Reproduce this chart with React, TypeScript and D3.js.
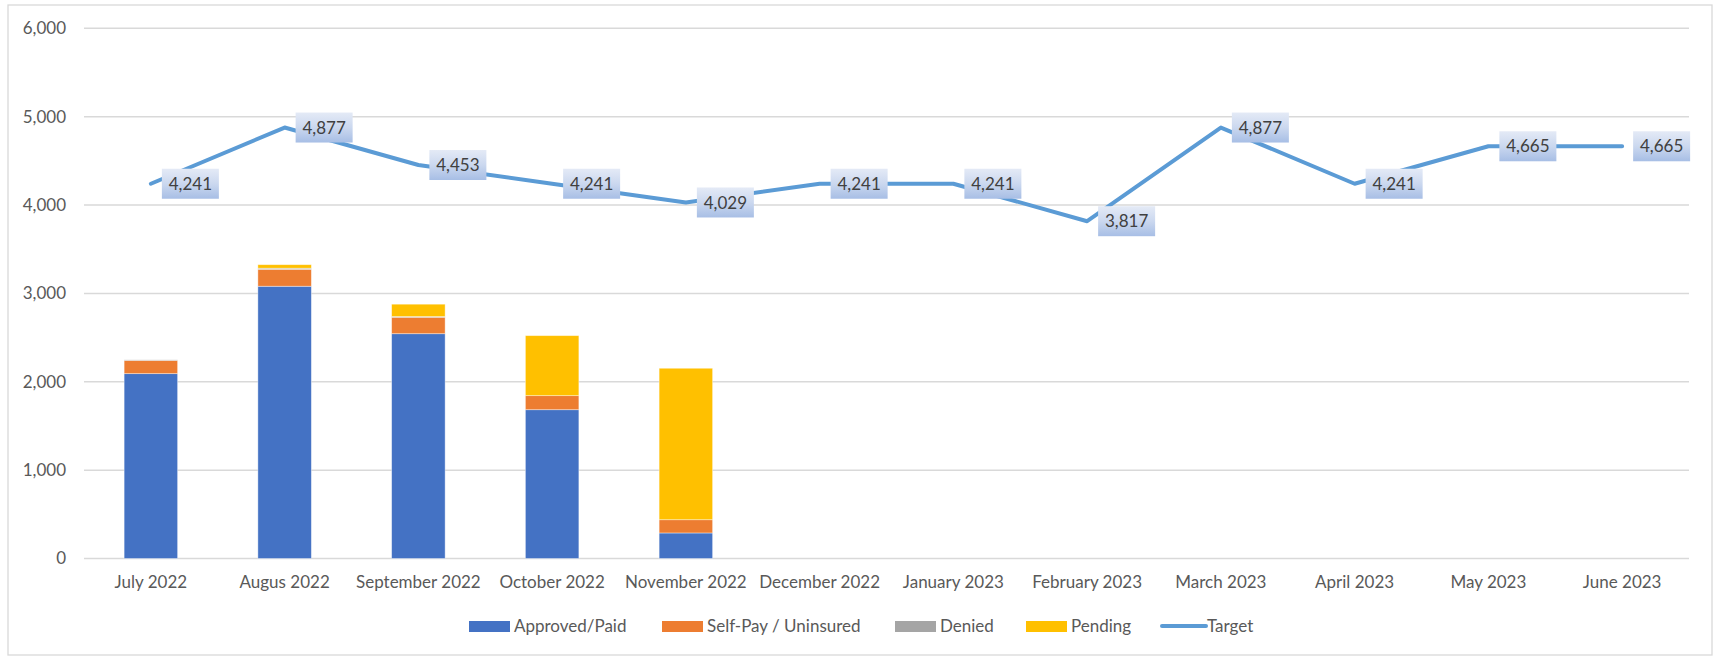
import React, { useEffect } from 'react';
import * as d3 from 'd3';

const months = ['July 2022', 'Augus 2022', 'September 2022', 'October 2022', 'November 2022', 'December 2022', 'January 2023', 'February 2023', 'March 2023', 'April 2023', 'May 2023', 'June 2023'];
const approved = [2092, 3081, 2544, 1684, 289, 0, 0, 0, 0, 0, 0, 0];
const selfPay = [150, 192, 186, 159, 150, 0, 0, 0, 0, 0, 0, 0];
const denied = [6, 12, 8, 0, 0, 0, 0, 0, 0, 0, 0, 0];
const pending = [0, 40, 140, 679, 1714, 0, 0, 0, 0, 0, 0, 0];
const target = [4241, 4877, 4453, 4241, 4029, 4241, 4241, 3817, 4877, 4241, 4665, 4665];
const yTicks = [0, 1000, 2000, 3000, 4000, 5000, 6000];
const seriesNames = ['Approved/Paid', 'Self-Pay / Uninsured', 'Denied', 'Pending'];
const seriesColors = ['#4472c4', '#ed7d31', '#a5a5a5', '#ffc000'];
const lineName = 'Target';
const lineColor = '#5b9bd5';

const W = 1715;
const H = 657;
const FONT = 'Lato, "Open Sans", sans-serif';

export default function App() {
  useEffect(() => {
    document.body.style.margin = '0';
  }, []);

  const x = d3.scaleBand<string>().domain(months).range([84, 1689]).paddingInner(0.6).paddingOuter(0.3);
  const y = d3.scaleLinear().domain([0, 6000]).range([558.5, 28.3]);
  const fmt = d3.format(',');

  const rows = months.map((m, i) => ({ month: m, s0: approved[i], s1: selfPay[i], s2: denied[i], s3: pending[i] }));
  const stack = d3.stack<any>().keys(['s0', 's1', 's2', 's3']);
  const stacked = stack(rows);

  const step = x.step();
  const cx = (m: string) => (x(m) as number) + x.bandwidth() / 2;
  const line = d3.line<number>().x((_, i) => cx(months[i])).y((d) => y(d));

  const legendSwatchX = [469, 662, 895, 1026];
  const legendY = 626.5;

  return (
    <svg width={W} height={H} style={{ display: 'block', fontFamily: FONT }}>
      <defs>
        <linearGradient id="lblGrad" x1="0" y1="0" x2="0" y2="1">
          <stop offset="0" stopColor="#e4eaf6" />
          <stop offset="0.5" stopColor="#cbd8ef" />
          <stop offset="1" stopColor="#a7bee5" />
        </linearGradient>
      </defs>
      <rect x={0} y={0} width={W} height={H} fill="#fff" />
      <rect x={8} y={5} width={1704} height={650} fill="#fff" stroke="#d9d9d9" strokeWidth={1.3} />

      {yTicks.map((t) => (
        <g key={t}>
          <line x1={84} x2={1689} y1={y(t)} y2={y(t)} stroke="#d9d9d9" strokeWidth={1.5} />
          <text x={66} y={y(t)} dy="0.35em" textAnchor="end" fontSize={17} fill="#595959">
            {fmt(t)}
          </text>
        </g>
      ))}

      {stacked.map((s, si) => (
        <g key={si} fill={seriesColors[si]}>
          {s.map((d, i) => {
            const h = y(d[0]) - y(d[1]);
            if (h <= 0) return null;
            return (
              <rect
                key={i}
                x={x(months[i]) as number}
                y={y(d[1])}
                width={x.bandwidth()}
                height={h}
                stroke="#ffffff"
                strokeOpacity={0.5}
                strokeWidth={0.8}
              />
            );
          })}
        </g>
      ))}

      {months.map((m) => (
        <text key={m} x={cx(m)} y={588} textAnchor="middle" fontSize={17} fill="#595959">
          {m}
        </text>
      ))}

      <path d={line(target) || ''} fill="none" stroke={lineColor} strokeWidth={4} strokeLinecap="round" strokeLinejoin="round" />

      {target.map((v, i) => {
        const px = cx(months[i]);
        const py = y(v);
        const bx = px + 11;
        return (
          <g key={i}>
            <rect x={bx} y={py - 15} width={57} height={30} fill="url(#lblGrad)" />
            <text x={bx + 28.5} y={py} dy="0.36em" textAnchor="middle" fontSize={17} fill="#404040">
              {fmt(v)}
            </text>
          </g>
        );
      })}

      {seriesNames.map((n, i) => (
        <g key={n}>
          <rect x={legendSwatchX[i]} y={legendY - 5.5} width={41} height={11} fill={seriesColors[i]} />
          <text x={legendSwatchX[i] + 45} y={632} fontSize={17} fill="#595959">
            {n}
          </text>
        </g>
      ))}
      <line x1={1162} x2={1206} y1={legendY - 0.5} y2={legendY - 0.5} stroke={lineColor} strokeWidth={4} strokeLinecap="round" />
      <text x={1207} y={632} fontSize={17} fill="#595959">
        {lineName}
      </text>
    </svg>
  );
}
